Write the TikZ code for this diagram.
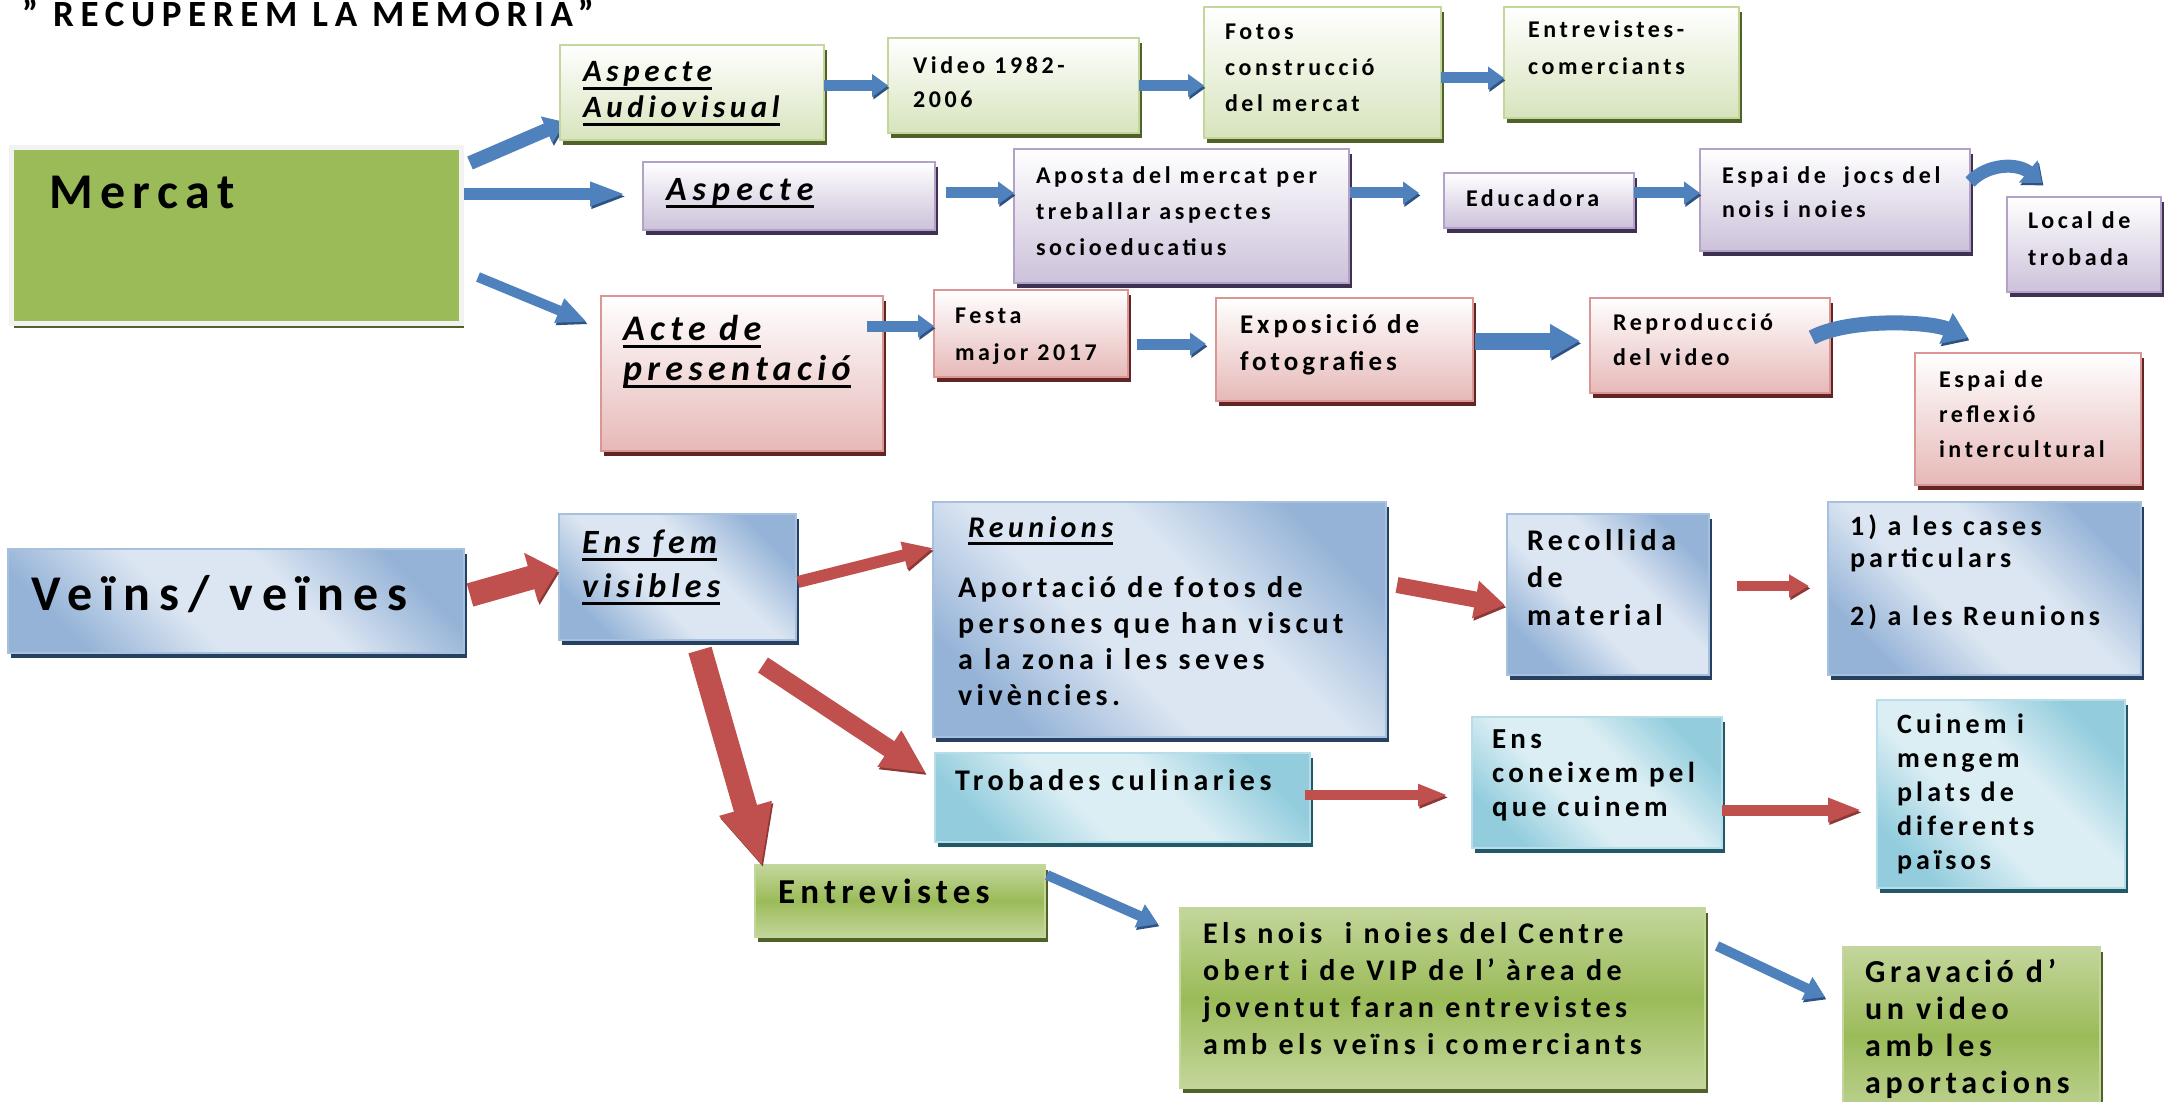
\documentclass[tikz,border=0pt]{standalone}
\usepackage{fontspec}
\setmainfont{Carlito}[LetterSpace=15]
\newfontfamily\widefont{Carlito}[LetterSpace=18]
\newcommand\uline[1]{\leavevmode\setbox0=\hbox{#1}\rlap{\vrule width\wd0 height-2.4pt depth 3.8pt}\box0}
\usetikzlibrary{arrows.meta,shadows,calc}
\definecolor{gB}{HTML}{C3D69B}
\definecolor{gBot}{HTML}{D7E4BD}
\definecolor{gS}{HTML}{4F6228}
\definecolor{pB}{HTML}{B3A2C7}
\definecolor{pBot}{HTML}{CCC1DA}
\definecolor{pS}{HTML}{3F3151}
\definecolor{rB}{HTML}{D99694}
\definecolor{rBot}{HTML}{E6B9B8}
\definecolor{rS}{HTML}{632523}
\definecolor{bB}{HTML}{A7C0DE}
\definecolor{bD}{HTML}{95B3D7}
\definecolor{bL}{HTML}{DCE6F2}
\definecolor{bS}{HTML}{254061}
\definecolor{tB}{HTML}{B7DEE8}
\definecolor{tD}{HTML}{93CDDD}
\definecolor{tL}{HTML}{DBEEF4}
\definecolor{tS}{HTML}{215968}
\definecolor{dgL}{HTML}{C3D69B}
\definecolor{dgM}{HTML}{9BBB59}
\definecolor{mF}{HTML}{9BBB59}
\definecolor{mFr}{HTML}{F2F2F2}
\definecolor{aB}{HTML}{4F81BD}
\definecolor{aBd}{HTML}{2F5283}
\definecolor{aR}{HTML}{C0504D}
\definecolor{aRd}{HTML}{8C3836}
\pgfdeclarehorizontalshading{bdiag}{100bp}{color(0bp)=(bD); color(25bp)=(bD); color(42bp)=(bL); color(58bp)=(bL); color(75bp)=(bD); color(100bp)=(bD)}
\pgfdeclarehorizontalshading{tdiag}{100bp}{color(0bp)=(tD); color(25bp)=(tD); color(42bp)=(tL); color(58bp)=(tL); color(75bp)=(tD); color(100bp)=(tD)}
\pgfdeclareverticalshading{gmid}{100bp}{color(0bp)=(dgL); color(25bp)=(dgL); color(50bp)=(dgM); color(75bp)=(dgL); color(100bp)=(dgL)}
\pgfdeclarelayer{bg}
\pgfsetlayers{bg,main}
\newcommand\lns[3]{{\fontsize{#1}{#2}\selectfont\lineskiplimit=-100pt\lineskip=0pt\vtop{#3}}}
\begin{document}
\begin{tikzpicture}[x=0.5pt,y=-0.5pt,
  geo/.style n args={4}{at={({(#1+#3)/2},{(#2+#4)/2})}, minimum width={(#3-#1)*0.5pt}, minimum height={(#4-#2)*0.5pt}},
  common/.style={rectangle, inner sep=0pt, outer sep=0pt, line width=1pt},
  shd/.style={drop shadow={shadow xshift=1.5pt, shadow yshift=-2.5pt, fill=#1, opacity=1}},
  lgbox/.style={common, draw=gB, top color=white, bottom color=gBot, shd=gS},
  pubox/.style={common, draw=pB, top color=white, bottom color=pBot, shd=pS},
  pkbox/.style={common, draw=rB, top color=white, bottom color=rBot, shd=rS},
  blbox/.style={common, draw=bB, shading=bdiag, shading angle=45, shd=bS},
  tlbox/.style={common, draw=tB, shading=tdiag, shading angle=45, shd=tS},
  dgbox/.style={common, draw=dgL, shading=gmid, shd=gS},
  mbox/.style={common, draw=mFr, fill=mF, line width=2.5pt, shd=gS},
  tx/.style={anchor=base west, inner sep=0pt, outer sep=0pt, font=\bfseries},
  barr/.style n args={3}{draw=aB, line width=#1, -{Triangle[width=#2,length=#3]},
    preaction={draw=aBd, -{Triangle[width=#2,length=#3]}, transform canvas={xshift=0.7pt,yshift=-1.2pt}}},
  rarr/.style n args={3}{draw=aR, line width=#1, -{Triangle[width=#2,length=#3]},
    preaction={draw=aRd, -{Triangle[width=#2,length=#3]}, transform canvas={xshift=0.7pt,yshift=-1.2pt}}}
]
\useasboundingbox (0,0) rectangle (2165,1102);
\clip (0,0) rectangle (2165,1102);

% ---------- boxes ----------
\node[mbox, geo={11}{148}{461}{323}] (mercat) {};
\node[lgbox, geo={560}{45}{824}{140}] (aud) {};
\node[lgbox, geo={888}{38}{1139}{133}] (vid) {};
\node[lgbox, geo={1204}{7}{1441}{138}] (fot) {};
\node[lgbox, geo={1504}{7}{1739}{118}] (ent1) {};
\node[pubox, geo={643}{162}{935}{230}] (asp) {};
\node[pubox, geo={1014}{149}{1349}{283}] (apo) {};
\node[pubox, geo={1444}{173}{1634}{228}] (edu) {};
\node[pubox, geo={1700}{149}{1970}{251}] (esp) {};
\node[pubox, geo={2007}{197}{2161}{292}] (loc) {};
\node[pkbox, geo={601}{296}{883}{451}] (acte) {};
\node[pkbox, geo={934}{290}{1128}{377}] (fes) {};
\node[pkbox, geo={1216}{298}{1473}{401}] (expo) {};
\node[pkbox, geo={1590}{298}{1830}{393}] (rep) {};
\node[pkbox, geo={1915}{353}{2141}{485}] (refl) {};
\node[blbox, geo={8}{549}{464}{653}] (veins) {};
\node[blbox, geo={559}{514}{796}{640}] (ensfem) {};
\node[blbox, geo={933}{502}{1386}{737}] (reun) {};
\node[blbox, geo={1507}{514}{1709}{675}] (rec) {};
\node[blbox, geo={1828}{502}{2141}{675}] (cases) {};
\node[tlbox, geo={935}{753}{1310}{842}] (trob) {};
\node[tlbox, geo={1472}{717}{1722}{848}] (coneix) {};
\node[tlbox, geo={1877}{700}{2125}{888}] (cuin) {};
\node[dgbox, geo={755}{865}{1045}{937}] (entrev) {};
\node[dgbox, geo={1180}{908}{1705}{1088}] (nois) {};
\node[dgbox, geo={1843}{947}{2100}{1125}] (grav) {};

% ---------- texts ----------
\node[tx] (tTitle) at (22,27) {\widefont\fontsize{18.5pt}{21pt}\selectfont ” RECUPEREM LA MEMORIA”};
\node[tx] (tMercat) at (49,208) {\fontsize{25pt}{30pt}\selectfont Mercat};
\node[tx] (tAud) at (583,82) {\lns{15.5pt}{18pt}{\itshape\hbox{\uline{Aspecte}}\hbox{\uline{Audiovisual}}}};
\node[tx] (tVid) at (913,74) {\lns{12pt}{17pt}{\hbox{Video 1982-}\hbox{2006}}};
\node[tx] (tFot) at (1225,40) {\lns{12pt}{18pt}{\hbox{Fotos}\hbox{construcció}\hbox{del mercat}}};
\node[tx] (tEnt1) at (1528,38) {\lns{12pt}{18.5pt}{\hbox{Entrevistes-}\hbox{comerciants}}};
\node[tx] (tAsp) at (666,200) {\widefont\lns{17pt}{20pt}{\itshape\hbox{\uline{Aspecte}}}};
\node[tx] (tApo) at (1036,184) {\lns{12pt}{18pt}{\hbox{Aposta del mercat per}\hbox{treballar aspectes}\hbox{socioeducatius}}};
\node[tx] (tEdu) at (1466,206) {\fontsize{12pt}{15pt}\selectfont Educadora};
\node[tx] (tEsp) at (1722,184) {\lns{12pt}{17pt}{\hbox{Espai de\ \ jocs del}\hbox{nois i noies}}};
\node[tx] (tLoc) at (2028,228) {\lns{12pt}{18.5pt}{\hbox{Local de}\hbox{trobada}}};
\node[tx] (tActe) at (623,340) {\lns{18pt}{20pt}{\itshape\hbox{\uline{Acte de}}\hbox{\uline{presentació}}}};
\node[tx] (tFes) at (955,323) {\lns{12pt}{18.5pt}{\hbox{Festa}\hbox{major 2017}}};
\node[tx] (tExpo) at (1240,333) {\lns{13.5pt}{18.5pt}{\hbox{Exposició de}\hbox{fotografies}}};
\node[tx] (tRep) at (1613,330) {\lns{12pt}{17.5pt}{\hbox{Reproducció}\hbox{del video}}};
\node[tx] (tRefl) at (1939,387) {\lns{12pt}{17.5pt}{\hbox{Espai de}\hbox{reflexió}\hbox{intercultural}}};
\node[tx] (tVeins) at (32,610) {\widefont\fontsize{25pt}{30pt}\selectfont Veïns/ veïnes};
\node[tx] (tEns) at (582,553) {\lns{17pt}{22pt}{\itshape\hbox{\uline{Ens fem}}\hbox{\uline{visibles}}}};
\node[tx] (tReun) at (968,537) {\fontsize{15pt}{18pt}\selectfont\itshape\uline{Reunions}};
\node[tx] (tApor) at (958,597) {\lns{15pt}{18pt}{\hbox{Aportació de fotos de}\hbox{persones que han viscut}\hbox{a la zona i les seves}\hbox{vivències.}}};
\node[tx] (tRec) at (1527,550) {\lns{15pt}{18.75pt}{\hbox{Recollida}\hbox{de}\hbox{material}}};
\node[tx] (tCases) at (1850,535) {\lns{14pt}{16pt}{\hbox{1) a les cases}\hbox{particulars}\vskip13pt\hbox{2) a les Reunions}}};
\node[tx] (tTrob) at (955,790) {\fontsize{15pt}{18pt}\selectfont Trobades culinaries};
\node[tx] (tCon) at (1492,748) {\lns{14.5pt}{17pt}{\hbox{Ens}\hbox{coneixem pel}\hbox{que cuinem}}};
\node[tx] (tCuin) at (1897,733) {\lns{14pt}{17pt}{\hbox{Cuinem i}\hbox{mengem}\hbox{plats de}\hbox{diferents}\hbox{països}}};
\node[tx] (tEntr) at (778,903) {\fontsize{17.5pt}{20pt}\selectfont Entrevistes};
\node[tx] (tNois) at (1203,943) {\lns{15pt}{18.5pt}{\hbox{Els nois\ \ i noies del Centre}\hbox{obert i de VIP de l’ àrea de}\hbox{joventut faran entrevistes}\hbox{amb els veïns i comerciants}}};
\node[tx] (tGrav) at (1865,982) {\lns{16pt}{18.5pt}{\hbox{Gravació d’}\hbox{un video}\hbox{amb les}\hbox{aportacions}}};

% ---------- blue arrows ----------
\begin{pgfonlayer}{bg}
\draw[barr={7pt}{14pt}{10pt}] ($(mercat.north east)+(9,15)$) -- ($(aud.south west)+(5,-18)$);
\end{pgfonlayer}
\draw[barr={6pt}{11pt}{18pt}] ($(mercat.east)+(3,-41.5)$) -- ($(asp.west)+(-17,-2)$);
\draw[barr={5pt}{12pt}{15pt}] ($(mercat.east)+(17,41.5)$) -- ($(acte.north west)+(-14,26)$);
\draw[barr={5.5pt}{11pt}{8pt}] (aud.east |- vid.west) -- (vid.west);
\draw[barr={5.5pt}{11pt}{8pt}] (vid.east) -- (fot.west |- vid.east);
\draw[barr={5.5pt}{11pt}{8pt}] ($(fot.east)+(0,5.5)$) -- ($(fot.east -| ent1.west)+(0,5.5)$);
\draw[barr={5.5pt}{11pt}{8pt}] ($(asp.east)+(11,-3)$) -- ($(asp.east -| apo.west)+(0,-3)$);
\draw[barr={5.5pt}{11pt}{8pt}] ($(apo.east |- edu.west)+(1,-7.5)$) -- ($(edu.west)+(-25,-7.5)$);
\draw[barr={5.5pt}{11pt}{8pt}] ($(edu.east)+(0,-7.5)$) -- ($(edu.east -| esp.west)+(0,-7.5)$);
\draw[barr={6.5pt}{14pt}{9pt}] ($(esp.east)+(0,-18)$) .. controls ($(esp.east)+(18,-37)$) and ($(esp.east)+(48,-37)$) .. ($(loc.north west)+(35,-14)$);
\draw[barr={5.5pt}{11pt}{8pt}] ($(acte.east |- fes.west)+(-16,-7.5)$) -- ($(fes.west)+(0,-7.5)$);
\draw[barr={5.5pt}{11pt}{8pt}] ($(fes.east)+(9,10.5)$) -- ($(expo.west)+(-10,-5.5)$);
\draw[barr={8.5pt}{16pt}{15pt}] ($(expo.east)+(2,-8.5)$) -- ($(rep.west)+(-10,-4.5)$);
\draw[barr={7.5pt}{16pt}{12pt}] ($(rep.east)+(-18,-8)$) .. controls ($(rep.east)+(20,-28)$) and ($(rep.east)+(100,-24)$) .. ($(refl.north)+(-60,-15)$);
\draw[barr={5pt}{12pt}{10pt}] ($(entrev.east)+(2,-26)$) -- ($(nois.north west)+(-22,16)$);
\draw[barr={5pt}{12pt}{10pt}] ($(nois.north east)+(12,38)$) -- ($(grav.north west)+(-18,50)$);

% ---------- red arrows ----------
\draw[rarr={12pt}{25pt}{14pt}] ($(veins.east)+(6,-6)$) -- ($(ensfem.west)+(-1,-7)$);
\draw[rarr={6pt}{13pt}{15pt}] ($(ensfem.east)+(2,5)$) -- ($(reun.west)+(0,-71.5)$);
\draw[rarr={9pt}{20pt}{22pt}] ($(ensfem.south east)+(-33,25)$) -- ($(trob.west)+(-9,-24.5)$);
\draw[rarr={12pt}{25pt}{30pt}] ($(ensfem.south)+(22.5,10)$) -- ($(entrev.north west)+(7,1)$);
\draw[rarr={8pt}{18pt}{15pt}] ($(reun.east)+(11,-34.5)$) -- ($(rec.west)+(-2,10.5)$);
\draw[rarr={5pt}{11pt}{10pt}] ($(rec.east)+(28,-8.5)$) -- ($(cases.west)+(-19,-2.5)$);
\draw[rarr={5pt}{10pt}{15pt}] ($(trob.east)+(-5,-2.5)$) -- ($(coneix.west)+(-24,12.5)$);
\draw[rarr={5.5pt}{11pt}{17pt}] ($(coneix.east)+(0,27.5)$) -- ($(cuin.west)+(-15,16)$);
\end{tikzpicture}
\end{document}
